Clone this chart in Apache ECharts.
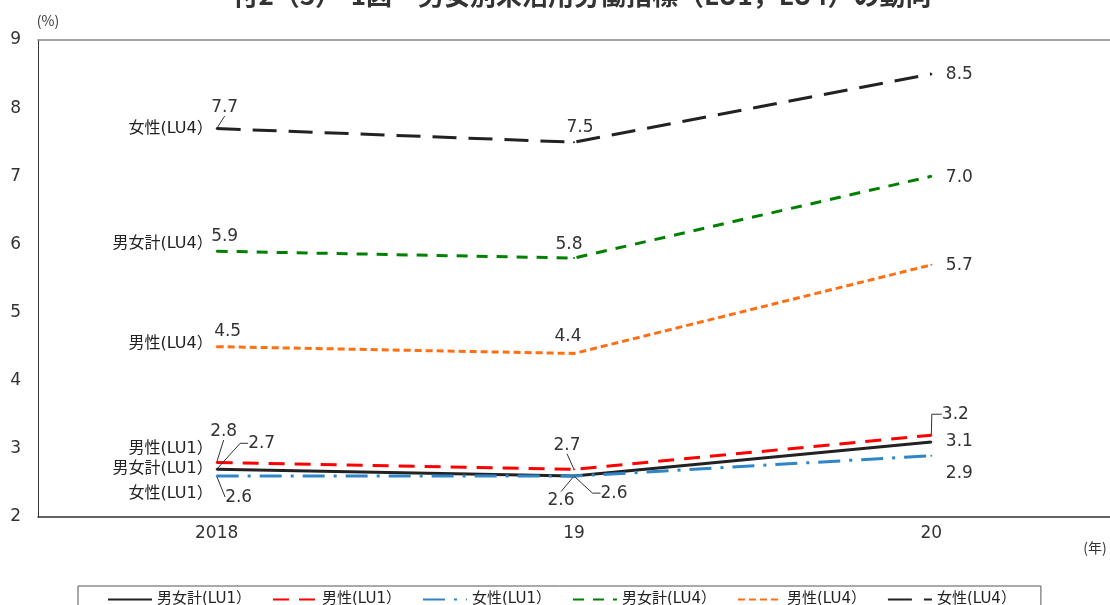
<!DOCTYPE html>
<html>
<head>
<meta charset="utf-8">
<script src="https://cdn.jsdelivr.net/npm/echarts@6/dist/echarts.min.js"></script>
<style>
  html, body { margin: 0; padding: 0; background: #fff; }
  #chart { width: 1110px; height: 605px; }
</style>
</head>
<body>
<div id="chart"></div>
<script>
// Years on the horizontal axis
const years = ['2018', '19', '20'];

// Unemployment-related indicators (%), LU1 and LU4, by sex
const lu1Total  = [2.7, 2.6, 3.1];
const lu1Male   = [2.8, 2.7, 3.2];
const lu1Female = [2.6, 2.6, 2.9];
const lu4Total  = [5.9, 5.8, 7.0];
const lu4Male   = [4.5, 4.4, 5.7];
const lu4Female = [7.7, 7.5, 8.5];

const seriesNames = ['男女計(LU1）', '男性(LU1）', '女性(LU1）', '男女計(LU4）', '男性(LU4）', '女性(LU4）'];

// Y axis range (%)
const yMin = 2, yMax = 9, yStep = 1;

const titleText = '付2（3）-1図　男女別未活用労働指標（LU1，LU4）の動向';

const FONT = '"DejaVu Sans", "Noto Sans CJK JP", sans-serif';
const TITLE_FONT = '"Noto Sans CJK JP", sans-serif';

// Per-point label placement: [dx, dy, leader line shown, leader elbow length]
const labelPlacement = {
  '男女計(LU1）': [[45, -27, true, 8], [40, 16, true, 8], [28, -1, false, 0]],
  '男性(LU1）':   [[7, -32, true, 0], [-7, -25, true, 0], [24, -22, true, 10]],
  '女性(LU1）':   [[22, 20, true, 0], [-13, 23, true, 0], [28, 17, false, 0]],
  '男女計(LU4）': [[8, -16, false, 0], [-5, -14, false, 0], [28, 0, false, 0]],
  '男性(LU4）':   [[11, -16, false, 0], [-6, -18, false, 0], [28, 0, false, 0]],
  '女性(LU4）':   [[8, -22, true, 0], [6, -16, false, 0], [28, 0, false, 0]]
};

// Series-name tag drawn left of the first point: vertical shift
const nameShift = {
  '男女計(LU1）': 0, '男性(LU1）': -14, '女性(LU1）': 18,
  '男女計(LU4）': -7, '男性(LU4）': -3, '女性(LU4）': 0
};

const styles = {
  '男女計(LU1）': { color: '#222222', type: 'solid' },
  '男性(LU1）':   { color: '#ff0000', type: [16, 10] },
  '女性(LU1）':   { color: '#2e86c8', type: [22, 9, 3, 9] },
  '男女計(LU4）': { color: '#008000', type: [11, 9] },
  '男性(LU4）':   { color: '#ff7014', type: [7, 4] },
  '女性(LU4）':   { color: '#222222', type: [24, 12] }
};

const values = [lu1Total, lu1Male, lu1Female, lu4Total, lu4Male, lu4Female];

function buildSeries(name, arr) {
  const place = labelPlacement[name];
  return {
    name: name,
    type: 'line',
    symbol: 'circle',
    symbolSize: 2,
    showAllSymbol: true,
    itemStyle: { color: styles[name].color },
    lineStyle: { color: styles[name].color, width: 3, type: styles[name].type },
    data: arr.map((v, i) => ({
      value: v,
      labelLine: {
        show: place[i][2],
        length2: place[i][3],
        lineStyle: { color: '#333', width: 1 }
      }
    })),
    label: {
      show: true,
      position: 'inside',
      color: '#333',
      fontSize: 17,
      fontFamily: FONT,
      formatter: p => p.value.toFixed(1)
    },
    labelLayout: p => ({ dx: place[p.dataIndex][0], dy: place[p.dataIndex][1] + 1 }),
    markPoint: {
      symbol: 'circle',
      symbolSize: 0,
      silent: true,
      animation: false,
      data: [{ coord: [years[0], arr[0]] }],
      label: {
        show: true,
        position: 'left',
        distance: 4,
        offset: [0, nameShift[name]],
        color: '#222',
        fontSize: 16,
        fontFamily: FONT,
        formatter: () => name
      }
    },
    emphasis: { disabled: true }
  };
}

const chart = echarts.init(document.getElementById('chart'));
chart.setOption({
  animation: false,
  backgroundColor: '#fff',
  textStyle: { fontFamily: FONT },
  grid: { left: 38, right: 0, top: 40, bottom: 88 },
  xAxis: [
    {
      type: 'category',
      data: years,
      boundaryGap: true,
      axisLine: { lineStyle: { color: '#333', width: 1.5 } },
      axisTick: { show: false },
      axisLabel: { color: '#333', fontSize: 17, fontFamily: FONT, margin: 8 }
    },
    {
      type: 'category',
      position: 'top',
      data: years,
      boundaryGap: true,
      axisLine: { lineStyle: { color: '#888', width: 1.5 } },
      axisTick: { show: false },
      axisLabel: { show: false }
    }
  ],
  yAxis: {
    type: 'value',
    min: yMin,
    max: yMax,
    interval: yStep,
    axisLine: { show: true, lineStyle: { color: '#333', width: 1 } },
    axisTick: { show: false },
    splitLine: { show: false },
    axisLabel: { color: '#333', fontSize: 17, fontFamily: FONT, margin: 17 }
  },
  legend: {
    data: seriesNames,
    left: 78,
    top: 586,
    padding: [6, 25, 6, 29],
    borderColor: '#555',
    borderWidth: 1,
    itemWidth: 44,
    itemHeight: 14,
    itemGap: 21,
    itemStyle: { opacity: 0 },
    textStyle: { color: '#222', fontSize: 15, fontFamily: FONT }
  },
  graphic: [
    {
      type: 'text',
      style: { text: titleText, x: 582, y: 8, textAlign: 'center', textVerticalAlign: 'bottom',
               fontSize: 26, fontWeight: 'bold', fill: '#333', fontFamily: TITLE_FONT }
    },
    {
      type: 'text',
      style: { text: '(%)', x: 48, y: 21, textAlign: 'center', textVerticalAlign: 'middle',
               fontSize: 14, fill: '#333', fontFamily: TITLE_FONT }
    },
    {
      type: 'text',
      style: { text: '(年)', x: 1095, y: 548, textAlign: 'center', textVerticalAlign: 'middle',
               fontSize: 14, fill: '#333', fontFamily: TITLE_FONT }
    }
  ],
  series: seriesNames.map((n, i) => buildSeries(n, values[i]))
});
</script>
</body>
</html>
